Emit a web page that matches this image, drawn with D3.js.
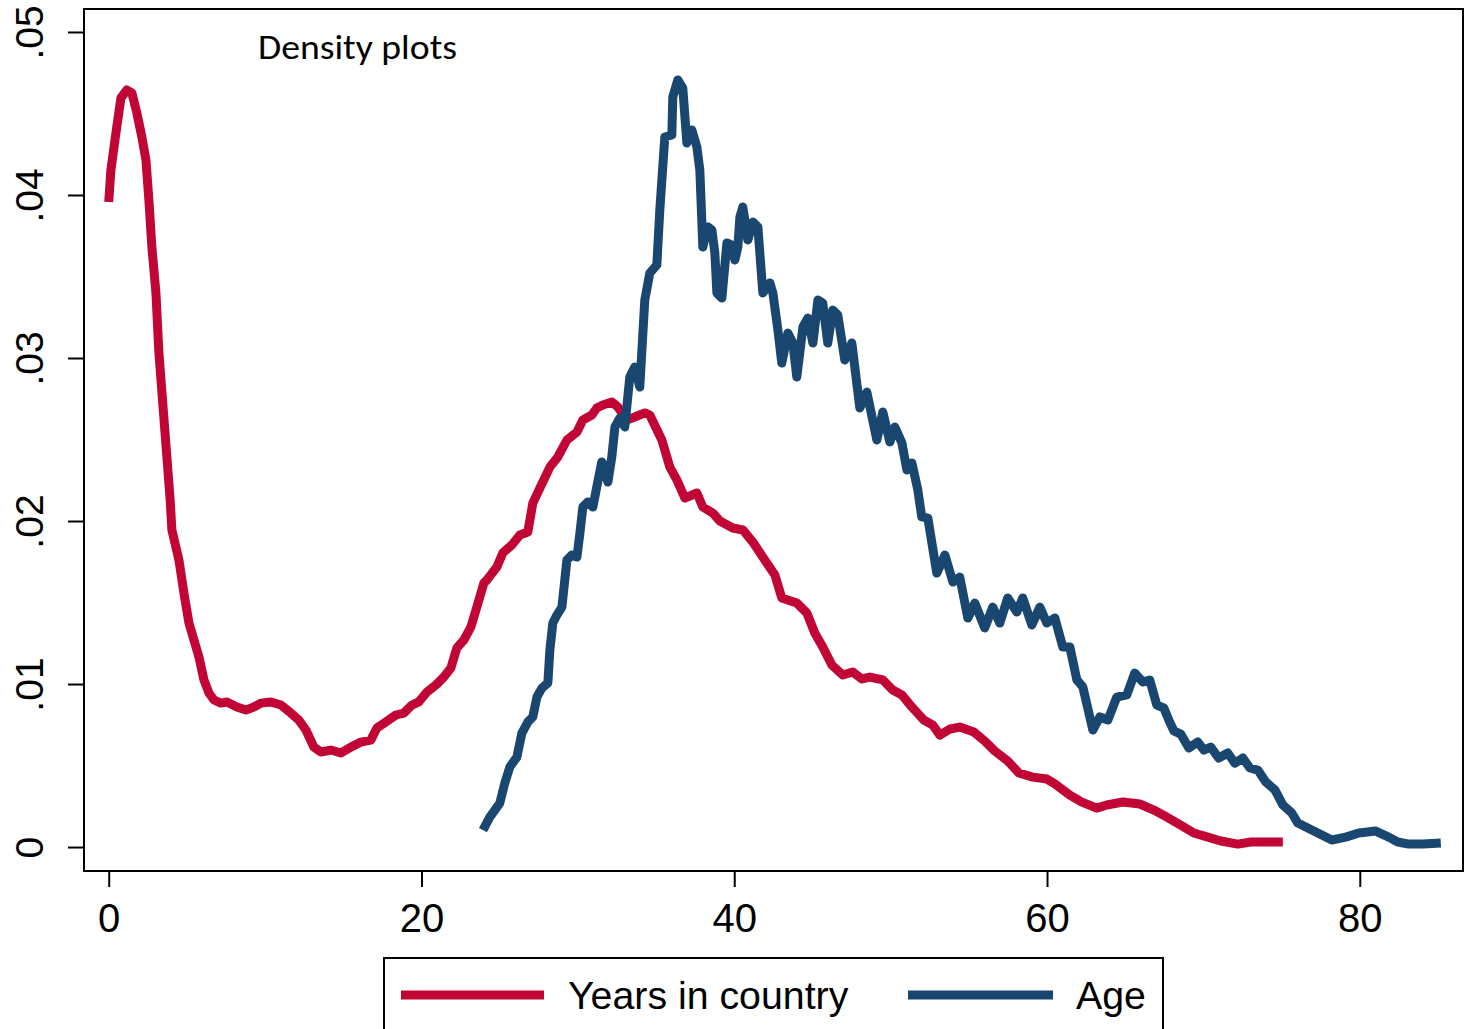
<!DOCTYPE html>
<html>
<head>
<meta charset="utf-8">
<script src="https://cdn.jsdelivr.net/npm/d3@7"></script>
<style>
  html, body { margin: 0; padding: 0; background: #fff; }
  svg { display: block; }
</style>
</head>
<body>
<svg id="chart" width="1474" height="1029"></svg>
<script>
// ---- Data ----
const chartTitle = "Density plots";
const seriesNames = ["Years in country", "Age"];

const yearsX = [0, 0.14, 0.46, 0.78, 1.16, 1.48, 1.80, 2.12, 2.38, 2.57, 2.76, 3.02, 3.21, 3.93, 4.04,
  4.49, 4.81, 5.13, 5.77, 6.09, 6.41, 6.73, 7.17, 7.56, 8.20, 8.77, 9.28, 9.73, 10.37, 11.01,
  11.65, 12.16, 12.61, 13.12, 13.57, 14.21, 14.85, 15.49, 16.13, 16.76, 17.15, 17.72, 18.36, 18.87,
  19.39, 19.83, 20.35, 20.92, 21.43, 21.88, 22.26, 22.71, 23.16, 23.54, 23.99, 24.18, 24.82, 25.20,
  25.78, 26.29, 26.80, 27.12, 27.57, 28.21, 28.72, 29.30, 29.94, 30.32, 30.90, 31.21, 31.60, 32.17,
  32.56, 33.13, 33.64, 34.28, 34.60, 35.37, 35.88, 36.33, 36.84, 37.61, 37.99, 38.63, 39.08, 39.91,
  40.55, 41.19, 42.08, 42.60, 43.04, 44.00, 44.64, 45.15, 45.66, 46.24, 46.94, 47.58, 48.16, 48.67,
  49.50, 50.14, 50.72, 51.36, 52.12, 52.70, 53.15, 53.79, 54.42, 55.32, 56.02, 56.66, 57.49, 58.20,
  59.09, 59.99, 60.50, 61.46, 62.23, 63.18, 63.82, 64.85, 65.93, 66.83, 67.66, 68.55, 69.39, 70.28,
  71.11, 72.20, 73.03, 74.12, 75.08];
const yearsY = [0.03957, 0.04153, 0.04380, 0.04595, 0.04644, 0.04626, 0.04503, 0.04356, 0.04215, 0.03969,
  0.03681, 0.03399, 0.03031, 0.02129, 0.01945, 0.01761, 0.01558, 0.01374, 0.01166, 0.01025, 0.00945,
  0.00902, 0.00883, 0.00890, 0.00859, 0.00840, 0.00859, 0.00883, 0.00890, 0.00871, 0.00822, 0.00779,
  0.00718, 0.00613, 0.00583, 0.00595, 0.00577, 0.00613, 0.00644, 0.00656, 0.00730, 0.00767, 0.00810,
  0.00822, 0.00871, 0.00890, 0.00951, 0.00994, 0.01043, 0.01098, 0.01221, 0.01270, 0.01350, 0.01472,
  0.01620, 0.01638, 0.01718, 0.01804, 0.01853, 0.01914, 0.01933, 0.02110, 0.02202, 0.02331, 0.02393,
  0.02497, 0.02546, 0.02620, 0.02650, 0.02693, 0.02712, 0.02730, 0.02699, 0.02620, 0.02638, 0.02663,
  0.02650, 0.02497, 0.02331, 0.02252, 0.02141, 0.02172, 0.02086, 0.02049, 0.02000, 0.01957, 0.01945,
  0.01871, 0.01742, 0.01669, 0.01528, 0.01497, 0.01436, 0.01313, 0.01227, 0.01117, 0.01055, 0.01074,
  0.01031, 0.01043, 0.01025, 0.00963, 0.00933, 0.00859, 0.00779, 0.00748, 0.00687, 0.00724, 0.00736,
  0.00706, 0.00650, 0.00589, 0.00528, 0.00454, 0.00429, 0.00417, 0.00387, 0.00319, 0.00276, 0.00239,
  0.00258, 0.00276, 0.00264, 0.00227, 0.00184, 0.00135, 0.00086, 0.00061, 0.00037, 0.00018, 0.00031,
  0.00031, 0.00031];

const ageX = [23.93, 24.37, 25.01, 25.33, 25.65, 26.10, 26.42, 26.80, 27.12, 27.38, 27.70, 28.08, 28.21,
  28.40, 28.66, 28.98, 29.30, 29.62, 29.94, 30.13, 30.32, 30.64, 30.96, 31.21, 31.53, 31.73, 31.92,
  32.17, 32.37, 32.69, 33.00, 33.32, 33.64, 33.96, 34.28, 34.60, 35.05, 35.24, 35.56, 36.01, 36.07,
  36.39, 36.71, 36.97, 37.29, 37.61, 37.80, 37.99, 38.31, 38.57, 38.76, 38.89, 39.21, 39.53, 39.85,
  40.04, 40.23, 40.36, 40.55, 40.87, 41.19, 41.51, 41.83, 42.28, 42.47, 42.79, 43.04, 43.43, 43.75,
  44.00, 44.39, 44.71, 45.03, 45.35, 45.66, 45.98, 46.30, 46.62, 47.07, 47.52, 48.03, 48.48, 49.12,
  49.50, 49.95, 50.27, 50.72, 51.04, 51.36, 51.74, 51.99, 52.38, 52.95, 53.47, 53.98, 54.42, 54.94,
  55.38, 56.02, 56.53, 56.98, 57.49, 58.07, 58.45, 59.03, 59.54, 59.99, 60.50, 61.01, 61.46, 61.91,
  62.29, 62.93, 63.38, 63.89, 64.46, 65.10, 65.61, 66.13, 66.57, 67.02, 67.47, 67.79, 68.11, 68.55,
  69.07, 69.64, 70.03, 70.47, 70.98, 71.56, 72.01, 72.52, 72.97, 73.48, 73.99, 74.57, 75.08, 75.65,
  76.04, 76.93, 78.21, 79.10, 79.94, 81.02, 81.85, 82.43, 83.13, 84.03, 85.18];
const ageY = [0.00104, 0.00184, 0.00270, 0.00393, 0.00491, 0.00552, 0.00699, 0.00767, 0.00798, 0.00920,
  0.00975, 0.01006, 0.01209, 0.01374, 0.01423, 0.01472, 0.01761, 0.01791, 0.01779, 0.01926, 0.02086,
  0.02117, 0.02086, 0.02209, 0.02362, 0.02313, 0.02239, 0.02393, 0.02577, 0.02632, 0.02577, 0.02883,
  0.02945, 0.02822, 0.03356, 0.03521, 0.03571, 0.03908, 0.04356, 0.04368, 0.04601, 0.04706, 0.04656,
  0.04319, 0.04399, 0.04294, 0.04153, 0.03681, 0.03804, 0.03785, 0.03644, 0.03399, 0.03368, 0.03706,
  0.03693, 0.03601, 0.03681, 0.03865, 0.03926, 0.03724, 0.03834, 0.03804, 0.03399, 0.03460, 0.03399,
  0.03172, 0.02969, 0.03153, 0.03092, 0.02883, 0.03190, 0.03245, 0.03092, 0.03356, 0.03337, 0.03092,
  0.03294, 0.03264, 0.02988, 0.03092, 0.02693, 0.02791, 0.02497, 0.02669, 0.02485, 0.02577, 0.02479,
  0.02313, 0.02356, 0.02190, 0.02025, 0.02018, 0.01681, 0.01791, 0.01626, 0.01656, 0.01405, 0.01497,
  0.01344, 0.01472, 0.01374, 0.01528, 0.01442, 0.01528, 0.01362, 0.01472, 0.01374, 0.01405, 0.01227,
  0.01227, 0.01025, 0.00982, 0.00718, 0.00798, 0.00779, 0.00920, 0.00933, 0.01067, 0.01012, 0.01025,
  0.00871, 0.00853, 0.00779, 0.00712, 0.00693, 0.00607, 0.00644, 0.00595, 0.00613, 0.00546, 0.00577,
  0.00515, 0.00546, 0.00485, 0.00472, 0.00399, 0.00350, 0.00258, 0.00209, 0.00147, 0.00104, 0.00043,
  0.00061, 0.00086, 0.00098, 0.00061, 0.00031, 0.00018, 0.00018, 0.00025];

const xTickValues = [0, 20, 40, 60, 80];
const xTickLabels = ["0", "20", "40", "60", "80"];
const yTickValues = [0, 0.01, 0.02, 0.03, 0.04, 0.05];
const yTickLabels = ["0", ".01", ".02", ".03", ".04", ".05"];
const seriesColors = ["#C10534", "#1A476F"];

// ---- Layout ----
const plot = { left: 84, right: 1463, top: 9, bottom: 871 };
const svg = d3.select("#chart");

const x = d3.scaleLinear().domain([-1.58, 86.6]).range([plot.left, plot.right]);
const y = d3.scaleLinear().domain([-0.00147, 0.05141]).range([plot.bottom, plot.top]);

// Lines
const line = d3.line().x(d => x(d[0])).y(d => y(d[1])).curve(d3.curveLinear);
const series = [
  d3.zip(yearsX, yearsY),
  d3.zip(ageX, ageY)
];
svg.append("g").selectAll("path").data(series).join("path")
  .attr("d", line)
  .attr("fill", "none")
  .attr("stroke", (d, i) => seriesColors[i])
  .attr("stroke-width", 9)
  .attr("stroke-linejoin", "round")
  .attr("stroke-linecap", "butt");

// Frame
svg.append("rect")
  .attr("x", plot.left).attr("y", plot.top)
  .attr("width", plot.right - plot.left).attr("height", plot.bottom - plot.top)
  .attr("fill", "none").attr("stroke", "#000").attr("stroke-width", 2);

// X axis
const xAxis = d3.axisBottom(x).tickValues(xTickValues)
  .tickFormat((d, i) => xTickLabels[i]).tickSize(16).tickPadding(10);
const gx = svg.append("g").attr("transform", `translate(0,${plot.bottom})`).call(xAxis);
gx.select(".domain").remove();
gx.selectAll(".tick line").attr("stroke", "#000").attr("stroke-width", 2);
gx.selectAll(".tick text")
  .attr("font-family", "'Liberation Sans', Arial, Helvetica, sans-serif")
  .attr("font-size", 40).attr("fill", "#000")
  .attr("dy", null).attr("y", 61);

// Y axis
const yAxis = d3.axisLeft(y).tickValues(yTickValues)
  .tickFormat((d, i) => yTickLabels[i]).tickSize(16);
const gy = svg.append("g").attr("transform", `translate(${plot.left},0)`).call(yAxis);
gy.select(".domain").remove();
gy.selectAll(".tick line").attr("stroke", "#000").attr("stroke-width", 2);
gy.selectAll(".tick text")
  .attr("font-family", "'Liberation Sans', Arial, Helvetica, sans-serif")
  .attr("font-size", 39).attr("fill", "#000")
  .attr("x", null).attr("dy", null)
  .attr("text-anchor", "middle")
  .attr("transform", "translate(-41,0) rotate(-90)");

// Title inside plot
svg.append("text")
  .attr("x", 258).attr("y", 59)
  .attr("font-family", "Carlito, Calibri, Lato, 'Open Sans', sans-serif")
  .attr("font-size", 34).attr("fill", "#000")
  .attr("textLength", 199).attr("lengthAdjust", "spacingAndGlyphs")
  .text(chartTitle);

// Legend
const legend = svg.append("g");
legend.append("rect")
  .attr("x", 384).attr("y", 958).attr("width", 779).attr("height", 100)
  .attr("fill", "#fff").attr("stroke", "#000").attr("stroke-width", 2);
const legendItems = [
  { x1: 401, x2: 544, tx: 568 },
  { x1: 908, x2: 1053, tx: 1076 }
];
legendItems.forEach((it, i) => {
  legend.append("line")
    .attr("x1", it.x1).attr("x2", it.x2).attr("y1", 995).attr("y2", 995)
    .attr("stroke", seriesColors[i]).attr("stroke-width", 9);
  legend.append("text")
    .attr("x", it.tx).attr("y", 1009)
    .attr("font-family", "'Liberation Sans', Arial, Helvetica, sans-serif")
    .attr("font-size", 39.3).attr("fill", "#000")
    .text(seriesNames[i]);
});
</script>
</body>
</html>
